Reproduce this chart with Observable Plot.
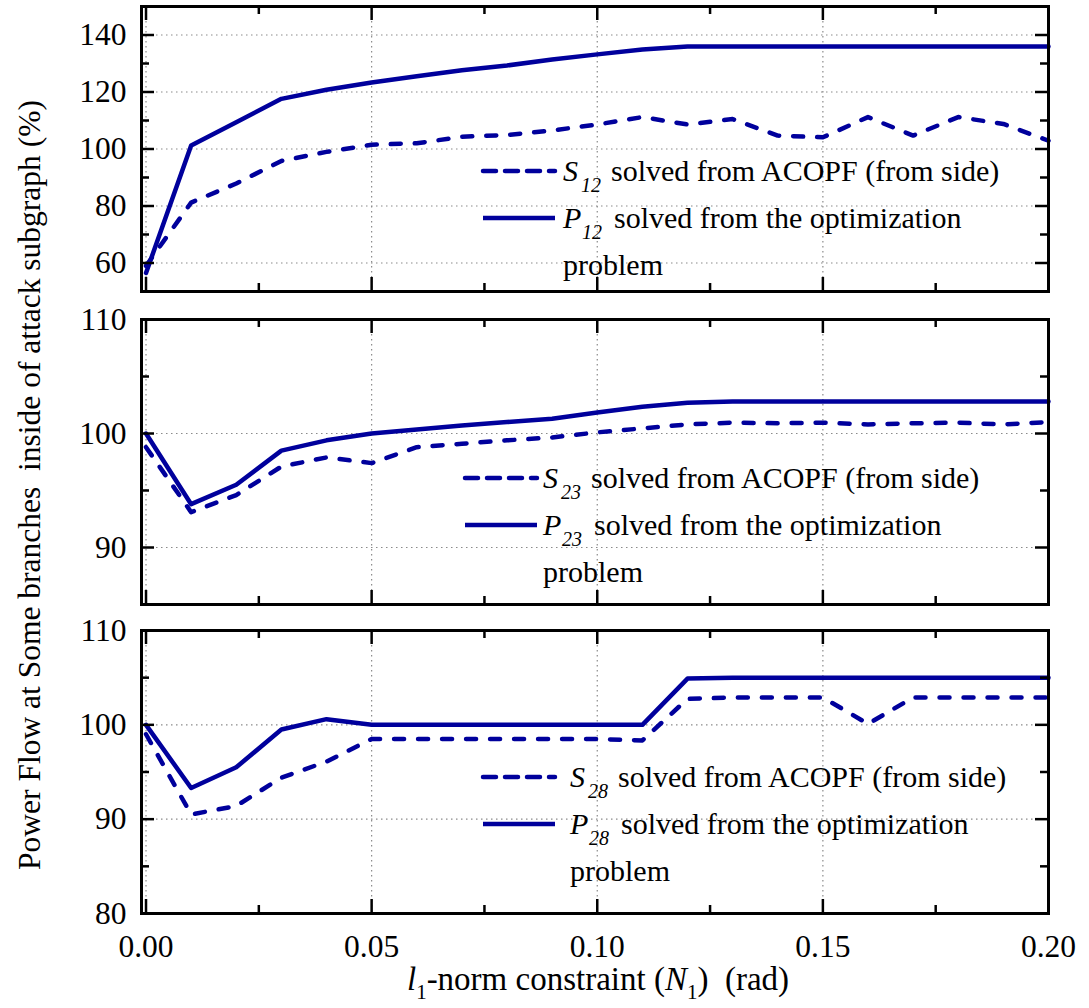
<!DOCTYPE html>
<html><head><meta charset="utf-8">
<script src="https://cdn.jsdelivr.net/npm/d3@7"></script>
<script src="https://cdn.jsdelivr.net/npm/@observablehq/plot@0.6"></script>
<style>
body{margin:0;background:#fff;}
#wrap{position:relative;width:1089px;height:1008px;font-family:"Liberation Serif",Tinos,"Times New Roman",Times,"DejaVu Serif",serif;color:#000;overflow:hidden;background:#fff;}
#wrap svg text{font-family:"Liberation Serif",Tinos,"Times New Roman",Times,"DejaVu Serif",serif;}
.panel{position:absolute;left:0;overflow:visible;}
.lg{position:absolute;width:0;height:0;}
.t{position:absolute;white-space:pre;font-size:30px;line-height:30px;}
.s{position:absolute;white-space:pre;font-size:20px;line-height:20px;font-style:italic;}
.ylab{position:absolute;white-space:pre;font-size:31.5px;line-height:32px;width:1000px;text-align:center;transform:rotate(-90deg);}
.xlab{position:absolute;white-space:pre;font-size:33px;line-height:33px;width:700px;text-align:center;}
</style></head>
<body><div id="wrap"></div>
<script>
// x values: l1-norm constraint N1 (rad)
const xs = [0,0.01,0.02,0.03,0.04,0.05,0.06,0.07,0.08,0.09,0.10,0.11,0.12,0.13,0.14,0.15,0.16,0.17,0.18,0.19,0.20];
// Panel 1 (branch 1-2)
const S12 = [59,81.2,87.9,95.8,99,101.5,102,104.3,104.9,106.5,108.6,111.2,108.6,110.5,104.7,104.1,111.2,104.7,111.2,108.8,102.9];
const P12 = [56.5,101.2,109.4,117.6,120.8,123.3,125.5,127.6,129.3,131.4,133.2,134.9,136,136,136,136,136,136,136,136,136];
// Panel 2 (branch 2-3)
const S23 = [98.8,93.1,94.6,97.1,97.9,97.4,98.8,99.1,99.4,99.65,100.1,100.45,100.8,100.95,100.9,100.95,100.8,100.9,100.95,100.8,101];
const P23 = [100,93.8,95.5,98.5,99.4,100,100.35,100.7,101,101.3,101.85,102.35,102.7,102.8,102.8,102.8,102.8,102.8,102.8,102.8,102.8];
// Panel 3 (branch 2-8)
const S28 = [99,90.5,91.4,94.4,96.1,98.5,98.5,98.5,98.5,98.5,98.5,98.35,102.75,102.9,102.9,102.9,100.1,102.9,102.9,102.9,102.9];
const P28 = [100,93.3,95.5,99.5,100.6,100,100,100,100,100,100,100,104.9,105,105,105,105,105,105,105,105];
// ticks
const xMajor = [0,0.05,0.10,0.15,0.20];
const xMinor = [0.025,0.075,0.125,0.175];
const xGrid = [0,0.05,0.10,0.15];
const panels = [
  {id:"12", S:S12, P:P12, domain:[50,150], major:[60,80,100,120,140], minor:[70,90,110,130], labels:[60,80,100,120,140], grid:[60,80,100,120,140]},
  {id:"23", S:S23, P:P23, domain:[85,110], major:[90,100], minor:[95,105], labels:[90,100,110], grid:[90,100]},
  {id:"28", S:S28, P:P28, domain:[80,110], major:[90,100], minor:[85,95,105], labels:[80,90,100,110], grid:[90,100]}
];
const xLabelParts = ["l","1","-norm constraint (","N","1",")  (rad)"];
const yLabel = "Power Flow at Some branches  inside of attack subgraph (%)";
const legendTexts = ["solved from ACOPF (from side)", "solved from the optimization", "problem"];

const blue = "#00009c";
const FONT = "'Liberation Serif', Tinos, 'Times New Roman', Times, 'DejaVu Serif', serif";
const W = 1089, ML = 141, MR = 41;
const PW = W - ML - MR;
const layout = [
  {top:0, height:300, mt:6, mb:9, lx:483, ly:171, tx:80},
  {top:310, height:300, mt:9, mb:6, lx:465, ly:478, tx:78},
  {top:620, height:388, mt:10, mb:95, lx:483, ly:777, tx:87}
];
const wrap = document.getElementById("wrap");

panels.forEach((p, i) => {
  const L = layout[i];
  const PH = L.height - L.mt - L.mb;
  const rows = xs.map((x, k) => ({x, S: p.S[k], P: p.P[k]}));
  const last = i === 2;
  const grid = {stroke:"#8a8a8a", strokeOpacity:1, strokeWidth:1.2, strokeDasharray:"1.5,3.5"};
  const tk = {stroke:"#000", strokeWidth:2.5};
  const marks = [
    Plot.gridX(xGrid, grid),
    Plot.gridY(p.grid, grid),
    Plot.line(rows, {x:"x", y:"S", stroke:blue, strokeWidth:4.5, strokeDasharray:"10,14", strokeLinecap:"round", strokeLinejoin:"round"}),
    Plot.line(rows, {x:"x", y:"P", stroke:blue, strokeWidth:4.5, strokeLinejoin:"round"}),
    Plot.tickY(p.major, {y:d=>d, insetRight:PW-13, ...tk}),
    Plot.tickY(p.major, {y:d=>d, insetLeft:PW-13, ...tk}),
    Plot.tickY(p.minor, {y:d=>d, insetRight:PW-8, ...tk}),
    Plot.tickY(p.minor, {y:d=>d, insetLeft:PW-8, ...tk}),
    Plot.tickX(xMajor, {x:d=>d, insetBottom:PH-14, ...tk}),
    Plot.tickX(xMajor, {x:d=>d, insetTop:PH-14, ...tk}),
    Plot.tickX(xMinor, {x:d=>d, insetBottom:PH-8, ...tk}),
    Plot.tickX(xMinor, {x:d=>d, insetTop:PH-8, ...tk}),
    Plot.frame({stroke:"#000", strokeWidth:3}),
    Plot.axisY(p.labels, {tickSize:0, tickPadding:15, tickFormat:d3.format("d"), fontSize:31.5, label:null})
  ];
  if (last) marks.push(Plot.axisX(xMajor, {tickSize:0, tickPadding:21, tickFormat:d3.format(".2f"), fontSize:31.5, label:null}));
  const chart = Plot.plot({
    width: W, height: L.height,
    marginLeft: ML, marginRight: MR, marginTop: L.mt, marginBottom: L.mb,
    style: {fontFamily: FONT, background:"transparent", color:"#000", overflow:"visible"},
    x: {domain:[-0.001, 0.2], axis: last ? undefined : null},
    y: {domain:p.domain, axis:null},
    marks
  });
  chart.classList.add("panel");
  chart.style.top = L.top + "px";
  wrap.appendChild(chart);

  // legend
  const lg = document.createElement("div");
  lg.className = "lg";
  lg.style.left = L.lx + "px";
  lg.style.top = L.ly + "px";
  const tx = L.tx;
  lg.innerHTML =
    `<svg style="position:absolute;left:-4px;top:-8px;overflow:visible" width="84" height="16"><line x1="4" y1="8" x2="76" y2="8" stroke="${blue}" stroke-width="4.5" stroke-dasharray="13,9" stroke-linecap="round"/></svg>` +
    `<svg style="position:absolute;left:-4px;top:39px;overflow:visible" width="84" height="16"><line x1="4" y1="8" x2="76" y2="8" stroke="${blue}" stroke-width="4.5"/></svg>` +
    `<span class="t" style="left:${tx}px;top:${10-25}px;font-style:italic">S</span>` +
    `<span class="s" style="left:${tx+18}px;top:${21-17}px">${p.id}</span>` +
    `<span class="t" style="left:${tx+48}px;top:${10-25}px">${legendTexts[0]}</span>` +
    `<span class="t" style="left:${tx}px;top:${57-25}px;font-style:italic">P</span>` +
    `<span class="s" style="left:${tx+19}px;top:${68-17}px">${p.id}</span>` +
    `<span class="t" style="left:${tx+51}px;top:${57-25}px">${legendTexts[1]}</span>` +
    `<span class="t" style="left:${tx}px;top:${104-25}px">${legendTexts[2]}</span>`;
  wrap.appendChild(lg);
});

// y axis title
const yl = document.createElement("div");
yl.className = "ylab";
yl.textContent = yLabel;
yl.style.left = (30 - 500) + "px";
yl.style.top = (485 - 16) + "px";
wrap.appendChild(yl);

// x axis title
const xl = document.createElement("div");
xl.className = "xlab";
xl.style.left = (598 - 350) + "px";
xl.style.top = (990 - 27) + "px";
xl.innerHTML = `<i>${xLabelParts[0]}</i><span style="font-size:21px;position:relative;top:9px">${xLabelParts[1]}</span>${xLabelParts[2]}<i>${xLabelParts[3]}</i><span style="font-size:21px;position:relative;top:9px">${xLabelParts[4]}</span>${xLabelParts[5]}`;
wrap.appendChild(xl);
</script>
</body></html>
